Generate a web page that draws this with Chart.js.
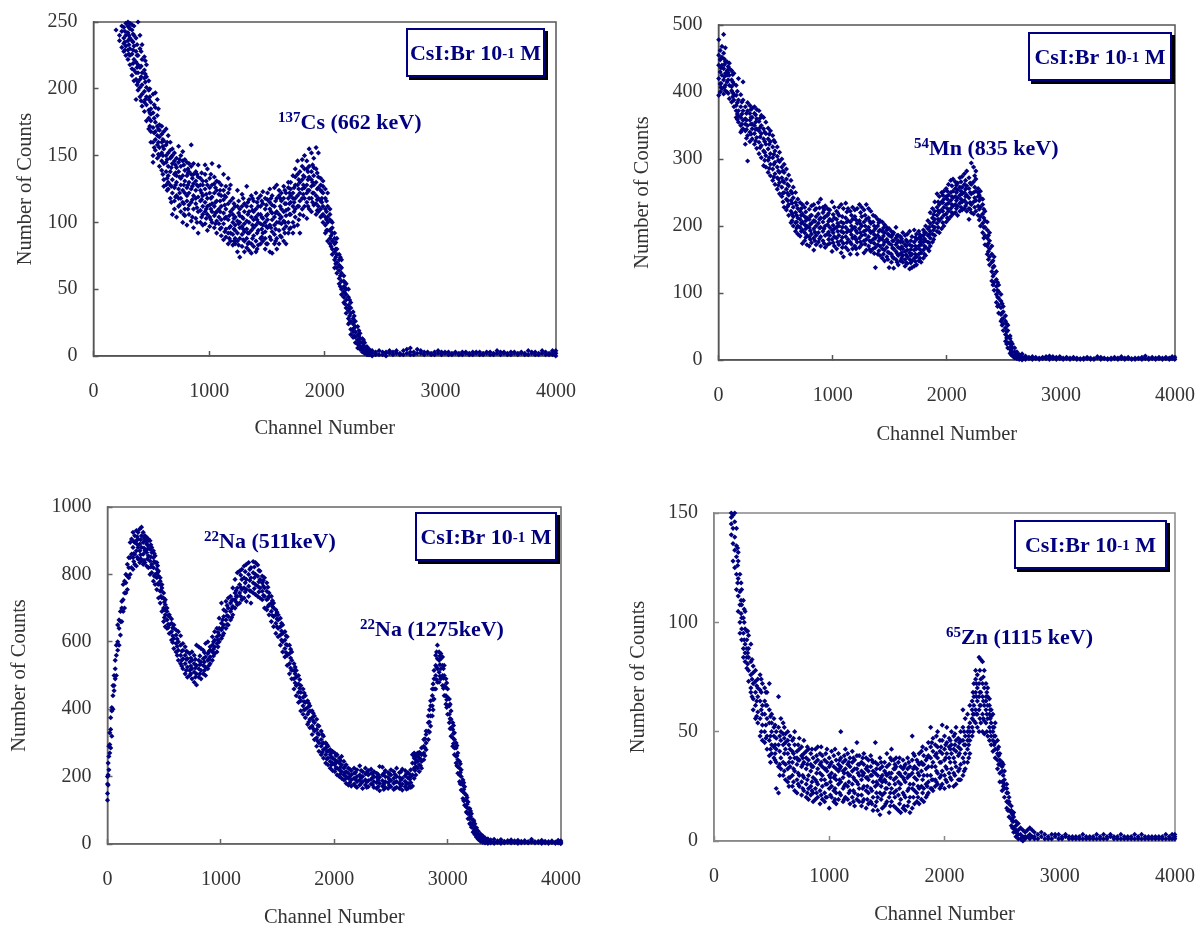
<!DOCTYPE html>
<html><head><meta charset="utf-8">
<script src="https://cdn.jsdelivr.net/npm/chart.js@4"></script>
<style>
html,body{margin:0;padding:0;background:#fff;overflow:hidden}
#page{position:relative;width:1197px;height:928px;background:#fff}
canvas{position:absolute;left:0;top:0}
.box{position:absolute;box-sizing:border-box;background:#fff;border:2px solid #000080;box-shadow:3px 3px 0 #000;color:#000080;font:bold 22px "Liberation Serif",serif;display:flex;align-items:center;justify-content:center;white-space:nowrap}
.lab{position:absolute;color:#000080;font:bold 22px "Liberation Serif",serif;white-space:nowrap;line-height:24px}
sup{font-size:15px;line-height:0;vertical-align:7px}
</style></head><body><div id="page">
<canvas id="c1" width="1197" height="928"></canvas>
<canvas id="c2" width="1197" height="928"></canvas>
<canvas id="c3" width="1197" height="928"></canvas>
<canvas id="c4" width="1197" height="928"></canvas>
<div class="box" style="left:406px;top:28px;width:139px;height:49px">CsI:Br&nbsp;10<sup>-1</sup>&nbsp;M</div>
<div class="box" style="left:1028px;top:32px;width:144px;height:49px">CsI:Br&nbsp;10<sup>-1</sup>&nbsp;M</div>
<div class="box" style="left:415px;top:512px;width:142px;height:49px">CsI:Br&nbsp;10<sup>-1</sup>&nbsp;M</div>
<div class="box" style="left:1014px;top:520px;width:153px;height:49px">CsI:Br&nbsp;10<sup>-1</sup>&nbsp;M</div>
<div class="lab" style="left:278px;top:110px"><sup>137</sup>Cs (662 keV)</div>
<div class="lab" style="left:914px;top:136px"><sup>54</sup>Mn (835 keV)</div>
<div class="lab" style="left:204px;top:529px"><sup>22</sup>Na (511keV)</div>
<div class="lab" style="left:360px;top:617px"><sup>22</sup>Na (1275keV)</div>
<div class="lab" style="left:946px;top:625px"><sup>65</sup>Zn (1115 keV)</div>
</div>
<script>
// Each row: channel, then the counts read at that channel.
const cs137Rows = [
[195,244],[225,240,236],[245,243,231,247],[262,246,228,238,234],[280,249,225,240,232],[298,250,247,222,236,242,229],[315,249,245,230,218,238,225],[333,248,244,215,226,236,210],[350,247,206,222,232,214,240],[368,238,192,220,207,228,212],[385,250,225,199,212,205,218],[402,240,194,216,207,230,201],[420,233,187,203,212,196,222],[440,224,183,208,198,214,190],[458,218,176,201,188,209,194],[478,206,170,192,184,199,178],[496,190,160,176,185,168,181],[515,196,145,171,182,160,150],[535,197,154,186,168,175,162],[552,192,158,180,148,172,165],[570,173,150,164,156,142,169],[590,172,146,160,152,166,139],[608,168,132,155,144,161,127],[628,170,128,150,138,158,145],[646,165,135,125,152,142,130],[664,160,118,148,128,138,154],[682,155,106,144,122,132,150],[700,152,116,136,126,146,110],[718,148,104,130,120,141,135],[736,157,112,138,125,145,118],[755,150,108,128,118,142,133],[772,153,100,135,115,124,146],[790,147,110,122,131,139,105],[808,145,98,126,116,135,120],[826,144,113,130,106,138,122],[845,158,101,125,136,115,142],[865,144,110,129,120,136,96],[885,138,103,124,114,131,118],[905,143,92,127,108,119,134],[925,133,100,116,124,109,128],[945,128,112,98,120,106,131],[965,143,99,115,125,108,136],[985,140,94,118,106,128,112],[1005,122,104,133,97,113,126],[1025,144,108,100,119,128,114],[1045,129,96,112,122,105,134],[1065,131,101,116,124,108,92],[1085,142,99,110,121,130,104],[1105,128,90,112,102,120,96],[1125,136,87,107,117,99,124],[1145,127,95,110,89,104,119],[1165,133,92,114,84,102,122],[1185,128,86,108,97,116,92],[1205,118,83,100,110,91,106],[1225,112,94,84,104,88,98],[1245,124,78,92,112,101,86],[1265,110,74,96,105,88,100],[1285,121,82,104,91,112,97],[1305,114,86,99,78,108,93],[1325,127,88,101,112,81,95],[1345,108,79,92,117,100,85],[1365,120,84,104,94,112,77],[1385,116,90,102,82,108,96],[1405,122,86,110,98,78,104],[1425,118,94,106,83,112,100],[1445,112,88,120,99,106,84],[1465,123,92,103,86,114,98],[1485,110,80,100,118,93,88],[1505,117,96,106,84,122,102],[1525,125,89,110,78,98,115],[1545,113,77,102,93,120,107],[1565,126,84,98,112,104,91],[1585,128,88,118,100,108,80],[1605,120,94,106,84,124,100],[1625,116,89,110,99,122,104],[1645,127,95,108,86,118,101],[1665,122,84,105,114,97,109],[1685,118,100,126,92,110,130],[1705,125,96,115,106,130,120],[1725,135,100,112,122,92,118],[1745,140,104,118,128,110,134],[1765,128,98,112,120,146,136],[1785,138,106,92,122,116,130],[1805,147,110,125,132,118,142],[1825,150,112,126,118,140,134],[1845,140,103,122,128,146,115],[1865,155,110,118,134,124,142],[1885,152,118,127,138,108,132],[1905,141,113,122,128,148,135],[1925,156,106,120,130,114,140],[1945,152,108,118,126,134,112],[1965,133,104,116,124,110,128],[1985,131,100,112,122,106,127],[2005,125,98,110,104,118,92],[2025,122,94,104,112,86,100],[2045,110,88,102,94,106,84],[2065,100,80,92,86,76,96],[2085,92,72,84,78,66,88],[2105,88,62,76,70,80,66],[2125,76,58,68,64,54,72],[2145,72,50,62,56,66,46],[2165,60,44,52,48,56,40],[2185,54,36,46,42,50,32],[2205,50,28,38,34,44,24],[2225,40,20,32,26,36,16],[2245,33,14,24,20,28,18],[2265,26,10,18,14,22],[2285,22,6,12,16,9],[2305,17,5,10,13,7],[2325,13,3,7,10,5],[2345,10,2,6,4],[2365,7,1,4,2],[2385,5,1,3],[2410,4,0,2],[2440,3,1,2],[2470,4,1],[2500,3,1],[2530,3,2,0],[2560,2,4],[2590,1,3],[2620,4,2],[2650,2,1],[2680,4,1],[2710,5,2],[2740,6,3,1],[2770,3,1],[2800,5,2],[2830,2,4],[2860,1,3],[2890,3,2],[2920,2,1],[2950,3,1],[2980,2,4],[3010,1,3],[3040,2,3],[3070,3,1],[3100,2,1],[3130,3,2],[3160,1,2],[3190,3,1],[3220,2,3],[3250,1,2],[3280,3,1],[3310,2,3],[3340,1,3],[3370,2,1],[3400,3,2],[3430,1,3],[3460,2,1],[3490,4,2],[3520,1,3],[3550,2,3],[3580,1,2],[3610,3,1],[3640,3,2],[3670,1,2],[3700,2,3],[3730,1,2],[3760,4,1],[3790,2,3],[3820,1,3],[3850,2,1],[3880,4,2],[3910,1,3],[3940,2,1],[3970,3,1,4],[3998,2,0,4]
];
const cs137Extra = [
[272,243,235,229],[306,240,233,226,246],[342,241,229,219,235],[377,233,216,203,225],[412,228,209,191,217],[448,205,221,192,211],[487,200,182,194,172],[525,188,178,156,167],[561,185,160,170,151],[600,162,150,136,157],[637,160,147,133,124],[673,149,141,127,115],[709,143,128,119,137],[745,134,122,147,113],[781,143,128,114,106],[817,137,128,110,140],[855,133,117,104,127],[895,128,111,136,100],[935,117,137,104,122],[975,121,103,131,110],[1015,136,110,118,102],[1055,115,126,99,107],[1095,124,108,95,116],[1135,113,93,103,120],[1175,105,125,96,88],[1215,114,95,86,103],[1255,99,116,83,107],[1295,103,87,118,95],[1335,106,92,115,84],[1375,98,109,88,118],[1415,92,115,102,80],[1455,104,95,116,89],[1495,113,97,84,105],[1535,108,87,118,96],[1575,116,95,107,86],[1615,112,103,90,118],[1655,114,100,92,124],[1695,106,122,95,114],[1735,126,108,115,97],[1775,132,112,102,125],[1815,121,135,105,128],[1855,132,112,124,138],[1895,122,143,115,130],[1935,137,117,125,109],[1975,123,115,105,118],[2015,116,102,94,108],[2055,101,90,82,95],[2095,80,69,74,85],[2135,67,60,52,74],[2175,55,47,39,51],[2215,42,30,36,25],[2255,30,21,15,26],[2295,19,11,15,8],[2335,12,8,5,3],[2375,5,3,1]
];
const mn54Rows = [
[2,395,420,440,455,478],[15,400,430,412,448,462],[30,405,425,440,468,452],[45,397,418,435,486,458],[60,410,428,445,466,402],[75,415,400,432,445,425],[95,390,410,425,443,435],[115,385,402,418,432,408],[135,378,396,412,428,388],[155,362,380,395,410,372],[175,355,372,388,420,364],[195,340,362,378,396,350],[215,345,358,372,415,388],[235,322,342,360,378,352],[255,297,335,350,372,384],[275,326,340,358,380,368],[295,330,345,362,376,352],[315,322,338,350,368,378],[335,316,332,345,360,374],[355,308,325,342,356,372],[375,302,320,338,350,365],[395,290,312,330,345,362],[415,288,305,322,338,355],[435,280,298,315,330,346],[455,275,292,308,326,342],[475,268,285,302,318,335],[495,262,278,295,312,325],[515,255,272,288,304,318],[535,248,265,280,296,310],[555,244,258,272,288,300],[575,228,250,265,280,292],[595,224,240,255,270,285],[615,216,232,246,260,276],[635,205,222,238,252,268],[655,200,214,228,242,258],[675,192,205,220,235,250],[695,188,200,212,226,240],[715,185,198,210,222,235],[735,174,194,206,218,232],[755,178,190,202,214,228],[775,172,186,200,212,234],[795,170,184,198,210,225],[815,175,188,204,216,230],[835,164,182,196,208,232],[855,172,186,200,214,226],[875,176,190,204,218,235],[895,170,184,198,212,240],[915,178,192,206,220,228],[935,168,186,200,214,230],[955,172,188,202,216,226],[975,174,186,198,210,224],[995,162,180,194,208,236],[1015,170,184,196,212,228],[1035,166,182,198,210,222],[1055,172,186,200,216,228],[1075,160,178,192,206,232],[1095,154,174,190,204,226],[1115,168,184,198,212,234],[1135,164,180,194,208,226],[1155,158,176,192,206,222],[1175,166,182,196,210,228],[1195,170,184,198,214,224],[1215,158,176,190,204,226],[1235,168,182,196,208,232],[1255,172,186,200,214,228],[1275,160,178,192,206,224],[1295,164,180,194,210,232],[1315,170,184,198,212,226],[1335,162,176,190,204,222],[1355,166,180,192,206,216],[1375,138,168,182,196,214],[1395,158,172,186,200,210],[1415,156,170,182,194,208],[1435,152,166,180,192,206],[1455,148,164,176,190,202],[1475,154,168,180,194,198],[1495,138,160,174,186,196],[1515,146,158,172,184,192],[1535,137,152,166,178,190],[1555,150,162,172,182,198],[1575,142,156,168,178,186],[1595,148,158,166,176,184],[1615,146,156,166,176,190],[1635,140,150,162,172,186],[1655,144,154,164,176,188],[1675,136,150,160,172,192],[1695,138,148,158,170,184],[1715,140,152,164,176,194],[1735,142,154,166,180,188],[1755,148,158,170,182,192],[1775,146,160,172,184,180],[1795,152,164,176,186,194],[1815,156,168,178,190,200],[1835,166,176,186,196,208],[1855,170,182,192,204,220],[1875,176,188,200,212,226],[1895,186,198,210,222,236],[1915,192,204,216,228,248],[1935,190,208,220,232,244],[1955,196,212,224,236,250],[1975,200,216,228,240,252],[1995,206,218,232,244,256],[2015,210,222,234,246,262],[2035,214,226,238,250,268],[2055,218,230,242,252,270],[2075,220,232,244,256,266],[2095,216,230,242,254,264],[2115,222,234,246,258,272],[2135,224,236,248,258,274],[2155,226,238,250,262,278],[2175,222,234,246,260,282],[2195,210,226,242,256,272],[2215,220,232,248,262,294],[2235,218,236,250,266,288],[2255,222,238,252,270,282],[2275,216,230,244,256,250],[2295,200,214,228,242,252],[2315,190,204,218,232,240],[2335,172,186,198,208,222],[2355,158,170,182,194,206],[2375,142,154,166,178,190],[2395,118,132,146,158,170],[2415,104,116,128,140,154],[2435,86,98,110,120,132],[2455,70,82,92,102,112],[2475,58,68,78,88,98],[2495,44,54,62,72,80],[2515,28,38,48,58,66],[2535,18,26,34,44,52],[2555,10,16,24,32,36],[2575,6,12,18,24],[2595,3,8,12,18],[2615,2,5,9,12],[2635,1,3,6,8],[2660,0,3,5,9],[2690,1,3,6],[2720,2,4],[2750,1,5],[2780,2,4],[2810,1,3],[2840,4,2],[2870,2,5],[2900,3,6,1],[2930,2,5],[2960,1,4],[2990,5,2],[3020,1,3],[3050,4,2],[3080,1,3],[3110,2,4],[3140,1,3],[3170,2,1],[3200,3,1],[3230,2,4],[3260,1,3],[3290,2,1],[3320,3,5],[3350,1,4],[3380,3,2],[3410,1,2],[3440,3,1],[3470,2,4],[3500,1,3],[3530,5,2],[3560,1,3],[3590,4,2],[3620,1,2],[3650,3,1],[3680,2,3],[3710,1,4],[3740,6,2],[3770,1,3],[3800,2,4],[3830,1,3],[3860,4,2],[3890,1,3],[3920,2,4],[3950,3,1],[3975,5,2],[3998,4,1]
];
const mn54Extra = [
[22,436,413,450,407],[52,441,423,407,449],[85,438,418,398,429],[125,415,393,426,399],[165,401,367,384,359],[205,385,352,367,343],[245,344,368,331,358],[285,352,374,337,362],[325,344,366,327,355],[365,347,317,333,361],[405,326,298,340,310],[445,302,322,286,337],[485,307,273,292,328],[525,282,261,298,270],[565,267,249,282,236],[605,249,229,262,238],[645,234,218,249,208],[685,216,197,231,206],[725,204,192,226,216],[765,196,208,183,221],[805,193,180,215,203],[845,191,207,178,224],[885,197,181,210,227],[925,196,174,212,224],[965,191,207,180,219],[1005,201,175,190,217],[1045,176,204,192,219],[1085,183,198,168,214],[1125,191,175,206,221],[1165,187,173,200,216],[1205,180,193,166,209],[1245,190,176,203,220],[1285,173,187,200,216],[1325,178,193,165,207],[1365,174,187,200,159],[1405,163,178,192,205],[1445,172,158,185,197],[1485,161,176,188,150],[1525,167,154,178,187],[1565,159,175,146,186],[1605,169,152,160,181],[1645,157,170,145,179],[1685,165,145,178,156],[1725,158,170,147,183],[1765,165,152,176,187],[1805,170,158,181,190],[1845,175,187,198,163],[1885,194,180,206,217],[1925,210,198,223,236],[1965,222,205,235,246],[2005,226,212,240,252],[2045,232,220,244,260],[2085,238,226,250,261],[2125,240,228,252,266],[2165,230,244,255,268],[2205,235,225,250,264],[2245,242,228,258,275],[2285,225,238,209,246],[2325,212,198,225,182],[2365,174,162,186,150],[2405,125,138,148,112],[2445,94,104,80,116],[2485,70,52,61,84],[2525,42,33,54,24],[2565,20,13,27,8]
];
const na22Rows = [
[0,130,150,178,200],[6,175,205,240],[12,220,260,290],[20,270,295,330],[28,285,340,375],[38,320,395,405],[48,400,440,470],[58,455,470,500],[68,490,520,545],[78,500,560,590],[90,575,600,650],[102,590,640,665],[114,620,660,690],[126,660,700,720],[138,690,725,770],[150,700,745,780],[162,745,775,800],[175,755,795,830],[188,790,820,850],[200,800,850,895],[212,820,860,905],[225,815,850,880,925],[240,830,860,895,915],[255,825,870,900,930],[270,845,880,905,925],[285,835,870,890,935],[300,840,880,915,940],[315,830,860,895,925],[330,835,870,900,915],[345,825,865,890,910],[360,820,855,885,905],[375,800,840,875,900],[390,805,830,865,880],[405,780,820,850,870],[420,770,800,835,855],[435,755,790,815,835],[450,730,770,795,810],[465,715,750,780,790],[480,690,730,760,770],[495,660,700,730,745],[510,645,680,710,725],[525,640,665,690,700],[545,625,650,675,680],[565,605,630,655,668],[585,580,610,640,650],[605,570,595,620,635],[625,545,575,600,630],[645,535,560,590,618],[665,520,550,575,595],[685,505,535,560,585],[705,495,525,550,570],[725,500,515,540,565],[745,490,520,545,570],[765,480,510,535,560],[785,472,505,530,590],[805,495,520,545,585],[825,490,515,540,580],[845,505,530,550,575],[865,500,525,555,595],[885,520,545,565,600],[905,535,555,575,585],[925,545,570,590,615],[945,565,585,605,630],[965,570,595,615,640],[985,600,620,640,670],[1005,610,635,655,715],[1025,625,650,675,695],[1045,640,665,690,720],[1065,650,675,700,730],[1085,665,690,715,735],[1105,680,705,725,760],[1125,700,725,745,785],[1145,710,735,760,805],[1165,715,745,770,810],[1185,725,755,785,815],[1205,730,760,790,825],[1225,720,755,785,830],[1245,735,765,800,835],[1265,715,750,790,820],[1285,745,775,805,838],[1305,740,770,800,835],[1325,735,765,795,828],[1345,730,760,785,810],[1365,725,750,775,795],[1385,700,735,760,790],[1405,695,725,750,775],[1425,680,710,735,745],[1445,660,690,715,735],[1465,645,675,700,715],[1485,625,655,680,695],[1505,615,640,665,680],[1525,590,620,645,670],[1545,570,600,625,650],[1565,555,580,605,630],[1585,530,560,590,615],[1605,505,535,565,590],[1625,490,515,545,570],[1645,460,490,515,535],[1665,440,470,495,515],[1685,420,450,475,500],[1705,395,425,450,470],[1725,385,410,435,460],[1745,375,400,420,440],[1765,355,385,405,425],[1785,345,370,395,410],[1805,325,350,375,395],[1825,310,335,360,380],[1845,290,315,340,370],[1865,275,300,325,350],[1885,265,290,310,335],[1905,255,280,300,320],[1925,240,265,285,300],[1945,235,255,275,290],[1965,225,245,265,280],[1985,218,240,255,275],[2005,215,235,250,270],[2025,205,225,245,265],[2045,200,220,240,255],[2065,195,215,235,260],[2085,190,205,225,245],[2105,180,200,215,235],[2125,175,195,210,225],[2150,172,190,205,218],[2175,178,195,210,225],[2200,168,185,200,220],[2225,175,190,205,232],[2250,165,185,200,215],[2275,175,190,208,225],[2300,170,188,205,218],[2325,178,192,210,222],[2350,168,185,200,215],[2375,165,182,198,210],[2400,158,180,198,230],[2425,172,188,205,228],[2450,168,185,200,218],[2475,165,182,198,212],[2500,170,188,205,220],[2525,162,180,195,215],[2550,168,185,200,225],[2575,165,180,198,212],[2600,160,178,195,222],[2625,170,186,202,218],[2650,165,180,196,212],[2675,168,182,200,220],[2690,172,205,240,265],[2705,195,225,255,270],[2720,205,230,250,262],[2735,225,245,262,270],[2750,215,235,255,272],[2770,225,245,265,285],[2790,250,270,290,310],[2810,280,300,325,335],[2830,310,335,360,380],[2850,350,380,410,425],[2865,380,410,440,460],[2880,430,460,490,515],[2895,460,500,530,560],[2910,480,520,550,590],[2925,480,510,545,570],[2940,490,520,550,565],[2955,470,500,530,555],[2970,440,470,500,530],[2985,415,440,465,490],[3000,385,410,435,460],[3015,360,385,410,430],[3030,320,345,370,395],[3045,290,315,340,360],[3060,265,285,310,330],[3075,240,260,285,300],[3090,210,230,250,270],[3105,185,205,225,245],[3120,160,180,200,220],[3135,135,155,175,190],[3150,115,130,150,170],[3165,95,110,130,145],[3180,75,90,105,125],[3195,60,75,90,105],[3210,50,60,75,90],[3225,35,48,60,72],[3240,28,38,50,60],[3255,20,30,40,48],[3270,14,22,30,38],[3290,8,15,22,30],[3310,5,10,16,24],[3330,3,8,12,18],[3355,2,6,10,15],[3380,3,7,12],[3410,2,6,14],[3440,4,9],[3470,2,7,13],[3500,3,8],[3530,5,10],[3560,3,7,12],[3590,4,9],[3620,2,6,11],[3650,3,8],[3680,4,10],[3710,3,7],[3740,5,9,14],[3770,3,7],[3800,4,8],[3830,2,6,11],[3860,3,8],[3890,2,7],[3920,4,9],[3950,2,6],[3975,3,8,11],[3998,1,5,9]
];
const na22Extra = [
[232,862,838,898],[262,889,851,912],[292,858,903,847],[322,878,842,908],[352,846,875,898],[382,822,852,888],[412,838,795,862],[442,772,805,826],[472,735,768,752],[502,695,672,718],[535,652,678,642],[575,618,642,598],[615,586,608,560],[655,545,572,528],[695,548,515,572],[735,528,552,505],[775,522,495,548],[815,532,505,558],[855,515,540,568],[895,548,530,572],[935,578,558,600],[975,605,585,628],[1015,642,618,665],[1055,678,652,708],[1095,698,672,722],[1135,718,752,735],[1175,735,762,798],[1215,748,775,808],[1255,752,782,815],[1295,758,790,822],[1335,748,778,812],[1375,738,765,782],[1415,705,728,762],[1455,678,705,722],[1495,645,668,688],[1535,605,632,655],[1575,568,592,618],[1615,522,552,578],[1655,478,505,525],[1695,435,462,488],[1735,398,422,448],[1775,362,392,418],[1815,342,365,388],[1855,305,328,352],[1895,272,298,325],[1935,252,275,295],[1975,235,258,272],[2015,225,242,262],[2055,208,228,248],[2095,192,212,230],[2137,182,200,222],[2187,172,192,212],[2237,180,198,218],[2287,168,184,212],[2337,176,196,208],[2387,170,190,206],[2437,162,178,210],[2487,174,192,208],[2537,166,184,206],[2587,172,190,214],[2637,163,178,208],[2667,172,192,206],[2712,218,240,258],[2760,232,252,268],[2800,262,285,312],[2840,332,362,398],[2872,398,428,475],[2903,488,525,570],[2932,498,532,558],[2963,462,492,520],[2992,405,428,478],[3022,342,372,415],[3052,298,328,352],[3082,232,262,292],[3112,178,212,238],[3142,128,162,182],[3172,92,118,138],[3202,62,82,98],[3232,38,52,68]
];
const zn65Rows = [
[150,150,145,140,148],[165,149,136,143,128],[180,150,133,146,125,139],[195,143,130,122,135,115],[210,128,112,120,105,132],[225,122,108,100,114,95],[240,115,102,97,108,92],[255,110,95,88,102,84],[270,105,90,82,97,86],[285,96,84,79,88,92],[300,94,78,84,88,73],[320,90,76,70,82,68],[340,80,72,65,60,77],[360,78,68,62,56,73],[380,74,66,59,70,54],[400,76,64,56,48,69],[420,72,62,53,46,58],[440,70,58,50,45,64],[460,68,56,48,42,62],[480,72,54,46,39,60],[500,58,50,44,40,54],[520,56,48,38,43,52],[540,50,42,36,24,47],[560,66,52,44,34,22],[580,56,46,38,33,50],[600,54,44,36,30,49],[620,49,42,35,28,45],[640,50,40,33,27,46],[660,48,38,34,29,42],[680,46,36,30,25,41],[700,50,38,32,23,44],[720,41,35,28,22,38],[740,47,37,30,25,42],[760,43,34,27,21,39],[780,46,36,29,23,40],[800,41,33,26,20,38],[820,37,30,24,19,42],[840,40,32,25,21,35],[860,38,29,22,18,34],[880,36,28,24,19,42],[900,43,33,26,20,37],[920,40,31,23,17,35],[940,39,30,25,19,34],[960,37,28,22,18,33],[980,42,32,26,20,36],[1000,38,30,24,15,34],[1020,41,31,25,20,36],[1040,39,29,23,18,34],[1060,37,28,22,17,33],[1080,40,32,26,19,35],[1100,50,34,27,21,38],[1120,36,29,24,18,32],[1140,42,33,26,20,37],[1160,40,31,25,19,35],[1180,38,30,23,17,34],[1200,41,32,26,20,36],[1220,37,28,22,16,33],[1240,45,33,27,19,39],[1260,39,30,24,18,35],[1280,36,28,21,16,32],[1300,40,31,25,19,35],[1320,38,29,23,15,33],[1340,37,28,22,17,32],[1360,39,30,24,18,34],[1380,36,27,20,14,32],[1400,45,31,25,16,36],[1420,35,26,20,14,30],[1440,38,28,22,12,33],[1460,34,27,21,15,30],[1480,36,28,22,16,32],[1500,40,30,24,18,34],[1520,35,26,20,13,31],[1540,42,31,24,18,37],[1560,37,28,22,16,33],[1580,38,29,23,15,34],[1600,36,27,21,14,31],[1620,34,26,19,13,30],[1640,37,29,22,15,33],[1660,35,27,20,14,31],[1680,38,29,23,16,33],[1700,34,26,20,13,30],[1720,48,31,24,15,37],[1740,39,29,23,17,34],[1760,37,28,22,18,33],[1780,40,30,24,17,35],[1800,41,32,25,19,36],[1820,39,30,24,18,35],[1840,42,33,26,20,37],[1860,45,34,27,22,39],[1880,52,38,30,24,43],[1900,47,36,28,23,41],[1920,44,34,28,25,39],[1940,50,38,31,26,43],[1960,46,36,29,24,41],[1980,53,40,32,26,46],[2000,48,37,30,24,42],[2020,52,40,33,27,45],[2040,47,38,31,25,43],[2060,50,40,33,28,44],[2080,48,38,31,25,42],[2100,52,41,34,26,46],[2120,47,39,32,28,43],[2140,50,42,35,28,46],[2160,60,46,38,30,52],[2180,56,48,40,33,44],[2200,58,50,42,36,46],[2220,62,54,46,40,50],[2240,60,52,64,56,48],[2255,72,62,55,66,58],[2270,78,68,60,54,74],[2285,76,70,64,58,52],[2300,84,72,66,60,50],[2315,83,74,68,62,54],[2330,82,72,66,58,50],[2345,78,70,62,55,49],[2360,72,66,60,54,64],[2375,70,62,56,48,66],[2390,65,58,52,46,62],[2405,60,54,48,44,57],[2420,58,52,46,41,50],[2440,54,48,42,38,45],[2460,46,42,37,33,40],[2480,40,35,31,27,37],[2500,36,32,27,23,34],[2520,32,28,24,20,26],[2540,26,22,18,15,24],[2560,20,17,14,11,18],[2580,16,13,10,7,14],[2600,11,9,6,4,13],[2620,9,7,4,2,5],[2640,8,5,3,1],[2660,6,3,1],[2680,5,2,0],[2700,4,1,2],[2720,5,2],[2740,6,3,1],[2760,5,2],[2780,4,2,1],[2810,3,1],[2840,2,4],[2870,3,1],[2900,2,1],[2930,3,1],[2960,2,3],[2990,3,1],[3020,2,1],[3050,3,2],[3080,1,2],[3110,2,1],[3140,1,2],[3170,2,1],[3200,3,1],[3230,2,1],[3260,1,2],[3290,2,1],[3320,3,1],[3350,2,1],[3380,3,1],[3410,2,1],[3440,3,2],[3470,2,1],[3500,2,1],[3530,1,3],[3560,2,1],[3590,1,2],[3620,2,1],[3650,3,1],[3680,2,1],[3710,3,1],[3740,2,1],[3770,2,1],[3800,1,2],[3830,2,1],[3860,1,2],[3890,2,1],[3920,1,3],[3950,2,1],[3975,3,1],[3998,2,1,3]
];
const zn65Extra = [
[205,134,118,126],[235,110,104,118],[262,100,92,106],[292,86,96,81],[330,83,74,66],[370,71,64,57],[410,68,60,50,74],[450,62,53,47,68],[490,57,48,42,36],[530,53,44,37,40],[570,48,41,35,30],[610,52,40,32,47],[650,44,36,29,25],[690,40,33,27,47],[730,44,31,26,37],[770,38,30,24,35],[810,35,28,22,43],[850,42,34,27,23],[890,39,31,22,27],[930,36,28,21,43],[970,33,26,20,40],[1010,35,27,21,29],[1050,42,30,24,19],[1090,37,28,22,33],[1130,31,25,19,39],[1170,36,27,22,30],[1210,29,23,18,38],[1250,35,26,21,31],[1290,38,30,24,18],[1330,34,25,19,29],[1370,30,23,17,37],[1410,33,27,18,22],[1450,36,25,19,29],[1490,31,24,17,27],[1530,38,29,22,16],[1570,33,26,20,35],[1610,31,24,17,38],[1650,34,28,21,16],[1690,30,24,18,36],[1730,33,26,20,40],[1770,31,25,20,36],[1810,35,28,22,43],[1850,38,30,25,21],[1890,34,28,45,24],[1930,40,32,27,48],[1970,36,30,25,43],[2010,44,34,28,38],[2050,36,29,42,46],[2090,44,36,30,49],[2130,40,33,28,45],[2170,44,36,50,32],[2210,52,44,38,48],[2247,58,50,68],[2277,66,58,72],[2307,68,62,78,56],[2337,75,64,56],[2367,68,58,50],[2397,56,50,60],[2430,48,44,52],[2470,39,35,43],[2510,30,25,35],[2550,22,18,14],[2590,12,9,6]
];

const xMax = 4000, xStep = 1000;
const yMaxes = [250, 500, 1000, 150];
const ySteps = [50, 100, 200, 50];
const xTitle = "Channel Number";
const yTitle = "Number of Counts";
const navy = "#000080";
const ink = "#333333";

const toPoints = rows => rows.flatMap(r => r.slice(1).map(y => ({x: r[0], y})));

// plot frame (l,t,r,b), centre of y title, centre of x title, frame colour
const panels = [
  {id:"c1", rows:cs137Rows.concat(cs137Extra), l:93.5, t:22,  r:556, b:356, yc:25,  xc:429, f:"#555"},
  {id:"c2", rows:mn54Rows.concat(mn54Extra),   l:718.5,t:25,  r:1175,b:360, yc:642, xc:435, f:"#555"},
  {id:"c3", rows:na22Rows.concat(na22Extra),   l:107.5,t:507, r:561, b:844, yc:19,  xc:918, f:"#666"},
  {id:"c4", rows:zn65Rows.concat(zn65Extra),   l:714,  t:513, r:1175,b:841, yc:638, xc:915, f:"#888"}
];

panels.forEach((p, i) => {
  const frame = {id:"frame", beforeDatasetsDraw(c){
    const a = c.chartArea, g = c.ctx; g.save();
    g.strokeStyle = p.f; g.lineWidth = 1.5;
    g.strokeRect(a.left, a.top, a.right-a.left, a.bottom-a.top); g.restore();
  }};
  new Chart(document.getElementById(p.id), {
    type: "scatter",
    data: {datasets: [{data: toPoints(p.rows), pointStyle:"rectRot", pointRadius:2.6,
      backgroundColor:navy, borderColor:navy, borderWidth:0, clip:false}]},
    plugins:[frame],
    options:{
      responsive:false, animation:false, devicePixelRatio:1,
      layout:{padding:{left:p.yc-12, top:p.t, right:1197-p.r, bottom:928-p.xc-12}},
      plugins:{legend:{display:false}, tooltip:{enabled:false}},
      scales:{
        x:{type:"linear", min:0, max:xMax,
          afterFit:s=>{s.height=p.xc+12-p.b; s.paddingLeft=0; s.paddingRight=0;},
          grid:{drawOnChartArea:false, tickLength:-5, tickColor:p.f, tickWidth:1.5},
          border:{color:p.f, width:1.5},
          ticks:{stepSize:xStep, maxRotation:0, color:ink, padding:29, callback:v=>String(v), font:{family:"Liberation Serif", size:20}},
          title:{display:true, text:xTitle, color:ink, padding:0, font:{family:"Liberation Serif", size:20.5}}},
        y:{type:"linear", min:0, max:yMaxes[i],
          afterFit:s=>{s.width=p.l-(p.yc-12); s.paddingTop=0; s.paddingBottom=0;},
          grid:{drawOnChartArea:false, tickLength:-5, tickColor:p.f, tickWidth:1.5},
          border:{color:p.f, width:1.5},
          ticks:{stepSize:ySteps[i], color:ink, padding:21, callback:v=>String(v), font:{family:"Liberation Serif", size:20}},
          title:{display:true, text:yTitle, color:ink, padding:0, font:{family:"Liberation Serif", size:20.5}}}
      }
    }
  });
});
</script></body></html>
